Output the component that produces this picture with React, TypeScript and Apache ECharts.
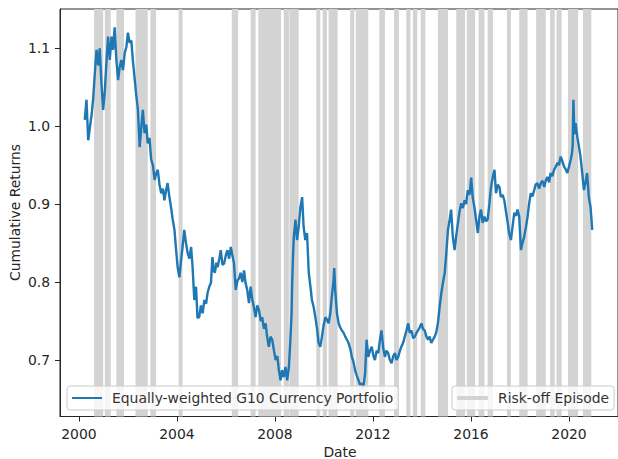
import React, { useEffect, useRef } from 'react';
import * as echarts from 'echarts';

// Decimal-year dates of the portfolio series
const dates = [
  2000.24, 2000.31, 2000.38, 2000.45, 2000.52, 2000.58, 2000.65, 2000.72, 2000.79, 2000.85,
  2000.92, 2000.99, 2001.06, 2001.12, 2001.19, 2001.26, 2001.33, 2001.39, 2001.46, 2001.53,
  2001.60, 2001.66, 2001.73, 2001.80, 2001.87, 2001.94, 2002.00, 2002.07, 2002.14, 2002.20,
  2002.27, 2002.34, 2002.41, 2002.48, 2002.55, 2002.61, 2002.68, 2002.75, 2002.81, 2002.88,
  2002.95, 2003.02, 2003.09, 2003.16, 2003.22, 2003.29, 2003.36, 2003.43, 2003.49, 2003.56,
  2003.62, 2003.69, 2003.76, 2003.83, 2003.90, 2003.97, 2004.03, 2004.10, 2004.17, 2004.23,
  2004.30, 2004.37, 2004.44, 2004.51, 2004.58, 2004.64, 2004.71, 2004.78, 2004.84, 2004.91,
  2004.98, 2005.05, 2005.12, 2005.19, 2005.25, 2005.32, 2005.39, 2005.45, 2005.50, 2005.55,
  2005.61, 2005.66, 2005.73, 2005.79, 2005.86, 2005.93, 2006.00, 2006.06, 2006.13, 2006.20,
  2006.26, 2006.33, 2006.40, 2006.47, 2006.54, 2006.60, 2006.67, 2006.74, 2006.80, 2006.87,
  2006.94, 2007.01, 2007.08, 2007.14, 2007.21, 2007.28, 2007.35, 2007.42, 2007.48, 2007.55,
  2007.62, 2007.68, 2007.75, 2007.82, 2007.89, 2007.96, 2008.03, 2008.10, 2008.16, 2008.23,
  2008.29, 2008.36, 2008.43, 2008.50, 2008.57, 2008.63, 2008.68, 2008.70, 2008.74, 2008.77,
  2008.84, 2008.90, 2008.97, 2009.04, 2009.11, 2009.17, 2009.24, 2009.31, 2009.38, 2009.45,
  2009.51, 2009.58, 2009.65, 2009.72, 2009.78, 2009.85, 2009.92, 2009.99, 2010.06, 2010.12,
  2010.19, 2010.26, 2010.32, 2010.39, 2010.42, 2010.46, 2010.53, 2010.60, 2010.66, 2010.73,
  2010.80, 2010.87, 2010.94, 2011.00, 2011.07, 2011.14, 2011.20, 2011.27, 2011.34, 2011.41,
  2011.47, 2011.54, 2011.61, 2011.68, 2011.74, 2011.81, 2011.88, 2011.95, 2012.02, 2012.08,
  2012.15, 2012.22, 2012.28, 2012.35, 2012.42, 2012.49, 2012.55, 2012.62, 2012.69, 2012.76,
  2012.83, 2012.90, 2012.96, 2013.03, 2013.10, 2013.16, 2013.23, 2013.30, 2013.37, 2013.44,
  2013.50, 2013.57, 2013.64, 2013.71, 2013.78, 2013.84, 2013.91, 2013.98, 2014.04, 2014.11,
  2014.18, 2014.25, 2014.31, 2014.38, 2014.45, 2014.52, 2014.58, 2014.65, 2014.72, 2014.79,
  2014.86, 2014.93, 2015.00, 2015.06, 2015.13, 2015.19, 2015.26, 2015.33, 2015.40, 2015.47,
  2015.53, 2015.60, 2015.67, 2015.74, 2015.80, 2015.87, 2015.94, 2016.01, 2016.07, 2016.14,
  2016.21, 2016.28, 2016.35, 2016.41, 2016.48, 2016.55, 2016.62, 2016.68, 2016.75, 2016.82,
  2016.89, 2016.96, 2017.02, 2017.09, 2017.16, 2017.22, 2017.29, 2017.36, 2017.43, 2017.50,
  2017.56, 2017.63, 2017.70, 2017.77, 2017.84, 2017.90, 2017.97, 2018.04, 2018.10, 2018.17,
  2018.24, 2018.31, 2018.37, 2018.44, 2018.51, 2018.58, 2018.64, 2018.71, 2018.78, 2018.85,
  2018.92, 2018.99, 2019.05, 2019.12, 2019.19, 2019.25, 2019.32, 2019.39, 2019.46, 2019.53,
  2019.59, 2019.66, 2019.73, 2019.80, 2019.86, 2019.93, 2020.00, 2020.07, 2020.12, 2020.15,
  2020.18, 2020.22, 2020.27, 2020.34, 2020.40, 2020.47, 2020.54, 2020.61, 2020.67, 2020.74,
  2020.81, 2020.88, 2020.95,
];

// Cumulative returns of the equally-weighted G10 currency portfolio
const cumulativeReturns = [
  1.008, 1.034, 0.982, 0.999, 1.015, 1.034, 1.068, 1.098, 1.078, 1.100,
  1.055, 1.021, 1.046, 1.080, 1.115, 1.085, 1.115, 1.098, 1.127, 1.085,
  1.059, 1.075, 1.085, 1.072, 1.094, 1.102, 1.120, 1.107, 1.110, 1.085,
  1.063, 1.040, 1.021, 0.973, 1.000, 1.021, 0.991, 1.002, 0.978, 0.985,
  0.957, 0.950, 0.931, 0.940, 0.944, 0.925, 0.914, 0.920, 0.905, 0.918,
  0.927, 0.910, 0.896, 0.880, 0.867, 0.840, 0.819, 0.806, 0.828, 0.845,
  0.867, 0.850, 0.837, 0.830, 0.845, 0.819, 0.777, 0.794, 0.754, 0.755,
  0.770, 0.760, 0.777, 0.772, 0.786, 0.794, 0.799, 0.832, 0.815, 0.812,
  0.825, 0.819, 0.830, 0.841, 0.822, 0.824, 0.835, 0.841, 0.830, 0.845,
  0.835, 0.824, 0.790, 0.802, 0.805, 0.812, 0.800, 0.815, 0.799, 0.790,
  0.773, 0.794, 0.777, 0.768, 0.755, 0.770, 0.764, 0.750, 0.755, 0.740,
  0.747, 0.730, 0.717, 0.730, 0.726, 0.712, 0.700, 0.705, 0.687, 0.674,
  0.687, 0.678, 0.691, 0.674, 0.691, 0.726, 0.760, 0.794, 0.835, 0.858,
  0.880, 0.854, 0.871, 0.896, 0.909, 0.871, 0.854, 0.863, 0.812, 0.794,
  0.777, 0.768, 0.755, 0.740, 0.722, 0.717, 0.730, 0.745, 0.755, 0.752,
  0.747, 0.760, 0.781, 0.802, 0.818, 0.790, 0.760, 0.747, 0.742, 0.738,
  0.735, 0.730, 0.726, 0.722, 0.715, 0.704, 0.698, 0.687, 0.680, 0.674,
  0.668, 0.670, 0.665, 0.683, 0.726, 0.704, 0.712, 0.717, 0.705, 0.700,
  0.712, 0.709, 0.725, 0.738, 0.715, 0.704, 0.712, 0.709, 0.700, 0.696,
  0.705, 0.709, 0.700, 0.704, 0.712, 0.717, 0.722, 0.730, 0.738, 0.747,
  0.735, 0.738, 0.728, 0.730, 0.735, 0.738, 0.742, 0.747, 0.740, 0.738,
  0.730, 0.726, 0.730, 0.722, 0.726, 0.730, 0.735, 0.747, 0.768, 0.786,
  0.800, 0.812, 0.840, 0.867, 0.880, 0.893, 0.858, 0.841, 0.860, 0.876,
  0.890, 0.901, 0.895, 0.905, 0.900, 0.918, 0.912, 0.934, 0.909, 0.896,
  0.880, 0.863, 0.885, 0.893, 0.876, 0.884, 0.878, 0.880, 0.900, 0.922,
  0.935, 0.944, 0.914, 0.925, 0.922, 0.909, 0.912, 0.905, 0.890, 0.876,
  0.862, 0.854, 0.872, 0.889, 0.885, 0.893, 0.884, 0.841, 0.850, 0.858,
  0.870, 0.884, 0.900, 0.914, 0.910, 0.918, 0.925, 0.927, 0.920, 0.927,
  0.930, 0.922, 0.930, 0.935, 0.928, 0.940, 0.936, 0.944, 0.948, 0.953,
  0.950, 0.961, 0.955, 0.948, 0.945, 0.940, 0.948, 0.957, 0.965, 0.975,
  1.034, 0.990, 1.004, 0.986, 0.975, 0.961, 0.940, 0.918, 0.927, 0.940,
  0.909, 0.896, 0.867,
];

// Risk-off episodes (decimal years)
const riskOffStart = [
  2000.62, 2001.06, 2001.53, 2002.31, 2002.92, 2004.07, 2006.24, 2007.01, 2007.32, 2008.36,
  2008.59, 2009.69, 2009.95, 2010.19, 2011.07, 2011.30, 2012.26, 2012.86, 2013.36, 2013.63,
  2013.95, 2014.65, 2015.40, 2015.83, 2016.31, 2016.68, 2017.47, 2017.97, 2018.66, 2019.23,
  2019.49, 2019.96, 2020.57,
];
const riskOffEnd = [
  2000.99, 2001.30, 2001.84, 2002.81, 2003.15, 2004.23, 2006.50, 2007.21, 2008.25, 2008.57,
  2008.97, 2009.85, 2010.12, 2010.56, 2011.24, 2011.81, 2012.49, 2013.06, 2013.53, 2013.81,
  2014.14, 2015.06, 2015.76, 2016.17, 2016.55, 2016.90, 2017.63, 2018.31, 2019.05, 2019.42,
  2019.70, 2020.37, 2020.91,
];

const xTicks = [2000, 2004, 2008, 2012, 2016, 2020];
const yTicks = [0.7, 0.8, 0.9, 1.0, 1.1];

const SERIES_NAME = 'Equally-weighted G10 Currency Portfolio';
const RISK_NAME = 'Risk-off Episode';

export default function App() {
  const ref = useRef<HTMLDivElement>(null);

  useEffect(() => {
    if (!ref.current) return;
    const chart = echarts.init(ref.current, null, { renderer: 'svg', width: 618, height: 459 });
    const font = 'DejaVu Sans';
    const fs = 13.9;
    const ink = '#262626';
    const lineData = dates.map((d, i) => [d, cumulativeReturns[i]]);
    const areas = riskOffStart.map((s, i) => [{ xAxis: s }, { xAxis: riskOffEnd[i] }]);

    const legendBase = {
      orient: 'horizontal',
      padding: 5,
      backgroundColor: 'rgba(255,255,255,0.8)',
      borderColor: '#cccccc',
      borderWidth: 1,
      borderRadius: 3,
      selectedMode: false,
      textStyle: { fontFamily: font, fontSize: fs, color: '#333333', padding: [0, 0, 0, 5] },
    };

    chart.setOption({
      animation: false,
      grid: {
        left: 60,
        right: -3,
        top: 9,
        bottom: 42.5,
        show: true,
        borderColor: ink,
        borderWidth: 1,
        backgroundColor: 'transparent',
      },
      xAxis: {
        type: 'value',
        min: 1999.229,
        max: 2022.0,
        splitLine: { show: false },
        axisLine: { show: true, lineStyle: { color: ink, width: 1 } },
        axisTick: { show: true, length: 5, customValues: xTicks, lineStyle: { color: ink } },
        axisLabel: {
          customValues: xTicks,
          margin: 10,
          color: ink,
          fontFamily: font,
          fontSize: fs,
          formatter: (v: number) => String(Math.round(v)),
        },
      },
      yAxis: {
        type: 'value',
        min: 0.6275,
        max: 1.1504,
        splitLine: { show: false },
        axisLine: { show: true, lineStyle: { color: ink, width: 1 } },
        axisTick: { show: true, length: 5, customValues: yTicks, lineStyle: { color: ink } },
        axisLabel: {
          customValues: yTicks,
          margin: 10,
          color: ink,
          fontFamily: font,
          fontSize: fs,
          formatter: (v: number) => v.toFixed(1),
        },
      },
      legend: [
        {
          ...legendBase,
          left: 67,
          top: 386,
          itemWidth: 30,
          itemHeight: 2,
          data: [{ name: SERIES_NAME, icon: 'rect' }],
        },
        {
          ...legendBase,
          left: 452,
          top: 386,
          itemWidth: 31,
          itemHeight: 4,
          data: [{ name: RISK_NAME, icon: 'roundRect' }],
        },
      ],
      graphic: [
        {
          type: 'text',
          x: 340,
          y: 452,
          style: {
            text: 'Date',
            font: `${fs}px "${font}"`,
            fill: ink,
            align: 'center',
            verticalAlign: 'middle',
            textAlign: 'center',
            textVerticalAlign: 'middle',
          },
        },
        {
          type: 'text',
          x: 15,
          y: 212.5,
          rotation: Math.PI / 2,
          style: {
            text: 'Cumulative Returns',
            font: `${fs}px "${font}"`,
            fill: ink,
            align: 'center',
            verticalAlign: 'middle',
            textAlign: 'center',
            textVerticalAlign: 'middle',
          },
        },
      ],
      series: [
        {
          name: RISK_NAME,
          type: 'line',
          data: [],
          color: '#d3d3d3',
          z: 1,
          markArea: {
            silent: true,
            itemStyle: { color: '#d3d3d3', opacity: 1 },
            data: areas,
          },
        },
        {
          name: SERIES_NAME,
          type: 'line',
          data: lineData,
          showSymbol: false,
          symbol: 'none',
          color: '#1f77b4',
          lineStyle: { color: '#1f77b4', width: 2.4 },
          z: 3,
        },
      ],
    });

    return () => chart.dispose();
  }, []);

  return (
    <div
      ref={ref}
      style={{ position: 'fixed', left: 0, top: 0, width: 618, height: 459, background: '#ffffff' }}
    />
  );
}
